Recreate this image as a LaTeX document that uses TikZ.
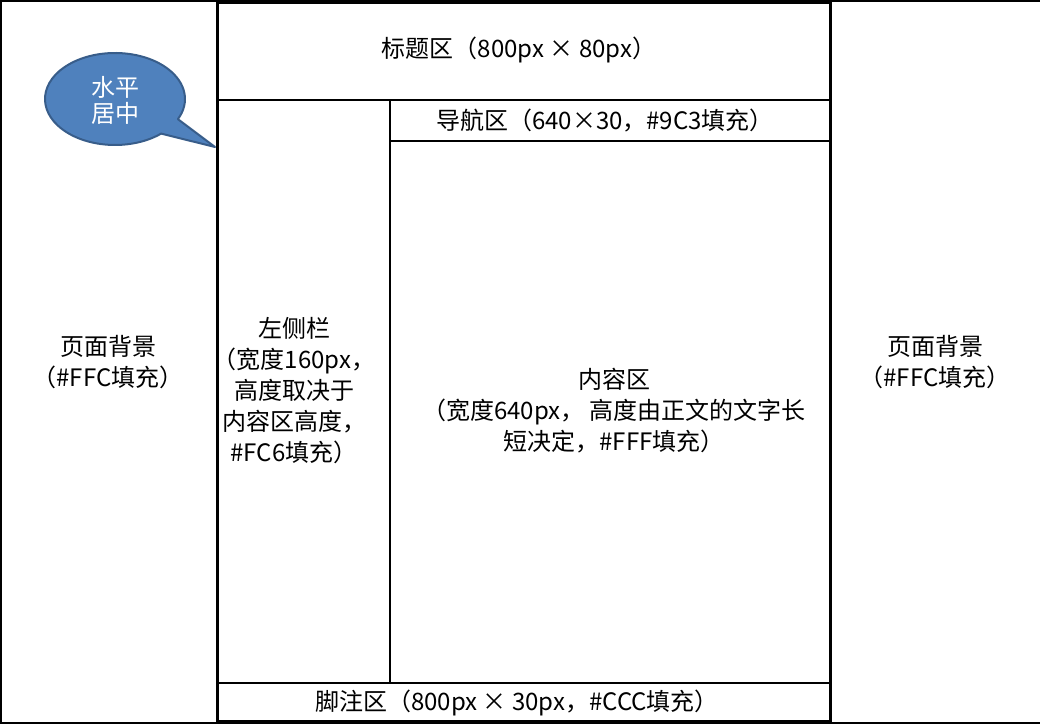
\documentclass[tikz,border=0pt]{standalone}
\usepackage{fontspec}
\setmainfont{Noto Sans CJK SC}
\definecolor{calloutfill}{HTML}{4F81BD}
\definecolor{calloutdraw}{HTML}{385D8A}
\begin{document}
\begin{tikzpicture}[x=1pt,y=-1pt,
  thickline/.style={line width=3.5pt},
  thinline/.style={line width=1.8pt},
  lbl/.style={align=center,font=\fontsize{24}{31}\selectfont,inner sep=0pt},
  calloutshape/.style={fill=calloutfill,draw=calloutdraw,line width=2pt,line join=round}]
\useasboundingbox (0,0) rectangle (1040,725);
% outer page border
\draw[line width=2pt] (1041,1) -- (1,1) -- (1,723) -- (1041,723);
% container
\draw[thickline] (217.5,2) rectangle (830.5,721.5);
% inner separators
\draw[thinline] (217.5,100) -- (830.5,100);
\draw[thinline] (390,100) -- (390,683);
\draw[thinline] (390,141) -- (830.5,141);
\draw[thinline] (217.5,683) -- (830.5,683);
% texts
\node[lbl] (title) at (519,50) {标题区（800px × 80px）};
\node[lbl] (nav) at (605,121) {导航区（640×30，\#9C3填充）};
\node[lbl] (side) at (294,391) {左侧栏\\（宽度160px，\\高度取决于\\内容区高度，\\\#FC6填充）};
\node[lbl] (content) at (614,411) {内容区\\（宽度640px，\ 高度由正文的文字长\\短决定，\#FFF填充）};
\node[lbl] (footer) at (517,703) {脚注区（800px × 30px，\#CCC填充）};
\node[lbl] (bgL) at (108,362) {页面背景\\（\#FFC填充）};
\node[lbl] (bgR) at (935,362) {页面背景\\（\#FFC填充）};
% callout
\coordinate (tip) at (215,147);
\draw[calloutshape] (tip) -- (161.1,133.6) arc[start angle=48.8,end angle=386,x radius=70,y radius=46] -- cycle;
\node[lbl,text=white,font=\fontsize{24}{26}\selectfont] (callout) at (115,100) {水平\\居中};
\end{tikzpicture}
\end{document}
